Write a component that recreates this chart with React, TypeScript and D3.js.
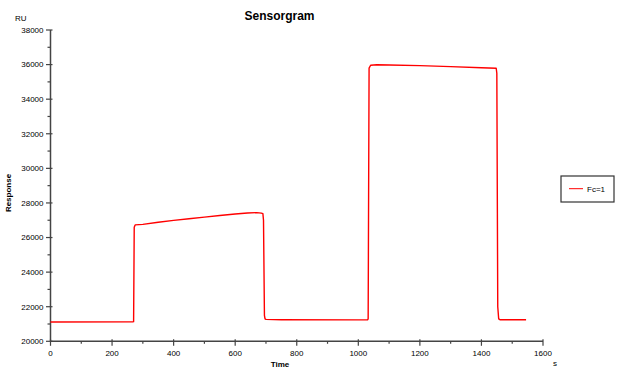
import React from "react";
import * as d3 from "d3";

const times: number[] = [0, 268, 270, 272, 275, 300, 350, 400, 450, 500, 550, 600, 640, 670, 685, 690, 692, 695, 697, 700, 750, 1000, 1030, 1032, 1035, 1040, 1060, 1100, 1200, 1300, 1400, 1448, 1450, 1453, 1456, 1460, 1545];
const response: number[] = [21120, 21130, 21135, 26600, 26730, 26760, 26880, 26990, 27090, 27180, 27270, 27360, 27420, 27440, 27410, 27380, 27000, 21500, 21300, 21270, 21250, 21240, 21240, 21300, 35800, 35960, 35990, 35980, 35940, 35880, 35820, 35790, 35500, 22000, 21300, 21250, 21250];
const xTicks: number[] = [0, 200, 400, 600, 800, 1000, 1200, 1400, 1600];
const yTicks: number[] = [20000, 22000, 24000, 26000, 28000, 30000, 32000, 34000, 36000, 38000];
const seriesName = "Fc=1";

const W = 643, H = 378;
const FONT = "'Liberation Sans', Arial, sans-serif";

export default function App() {
  const x = d3.scaleLinear().domain([0, 1600]).range([50.5, 543]);
  const y = d3.scaleLinear().domain([20000, 38000]).range([341.3, 30]);
  const data = times.map((t, i) => [t, response[i]] as [number, number]);
  const line = d3.line<[number, number]>().x(d => x(d[0])).y(d => y(d[1]));
  const xMinor = d3.range(100, 1600, 200);
  const yMinor = d3.range(21000, 38000, 2000);
  const axisColor = "#444";
  return (
    <svg width={W} height={H} style={{ position: "absolute", left: 0, top: 0, background: "#fff" }} fontFamily={FONT}>
      <rect x={0} y={0} width={W} height={H} fill="#fff" />
      <text x={279.5} y={20} fontSize={12} fontWeight="bold" textAnchor="middle">Sensorgram</text>
      <text x={15} y={20.5} fontSize={8}>RU</text>
      <text x={553} y={366} fontSize={8}>s</text>
      <text transform="translate(10.5,193) rotate(-90)" fontSize={8} fontWeight="bold" textAnchor="middle">Response</text>
      <text x={280} y={366.5} fontSize={8} fontWeight="bold" textAnchor="middle">Time</text>
      {/* y axis */}
      <line x1={x(0)} x2={x(0)} y1={y(38000)} y2={y(20000)} stroke={axisColor} strokeWidth={1.5} />
      {yTicks.map(v => (
        <g key={"yt" + v}>
          <line x1={x(0) - 4.5} x2={x(0) + 2} y1={y(v)} y2={y(v)} stroke={axisColor} strokeWidth={1.2} />
          <text x={43.5} y={y(v)} dy="0.35em" fontSize={8} textAnchor="end">{v}</text>
        </g>
      ))}
      {yMinor.map(v => (
        <line key={"ym" + v} x1={x(0) - 3} x2={x(0)} y1={y(v)} y2={y(v)} stroke={axisColor} strokeWidth={1.2} />
      ))}
      {/* x axis */}
      <line x1={x(0)} x2={x(1600)} y1={y(20000)} y2={y(20000)} stroke={axisColor} strokeWidth={1.5} />
      {xTicks.map(v => (
        <g key={"xt" + v}>
          <line x1={x(v)} x2={x(v)} y1={y(20000) - 2} y2={y(20000) + 4.5} stroke={axisColor} strokeWidth={1.2} />
          <text x={x(v)} y={355.5} fontSize={8} textAnchor="middle">{v}</text>
        </g>
      ))}
      {xMinor.map(v => (
        <line key={"xm" + v} x1={x(v)} x2={x(v)} y1={y(20000)} y2={y(20000) + 2.5} stroke={axisColor} strokeWidth={1.2} />
      ))}
      {/* series */}
      <path d={line(data) || ""} fill="none" stroke="#ff0000" strokeWidth={1.4} strokeLinejoin="round" />
      {/* legend */}
      <rect x={561} y={176} width={53} height={26} fill="#fff" stroke="#333" strokeWidth={1.2} />
      <line x1={569} x2={583} y1={188.7} y2={188.7} stroke="#ff0000" strokeWidth={1} />
      <text x={587} y={191.5} fontSize={8}>{seriesName}</text>
    </svg>
  );
}
